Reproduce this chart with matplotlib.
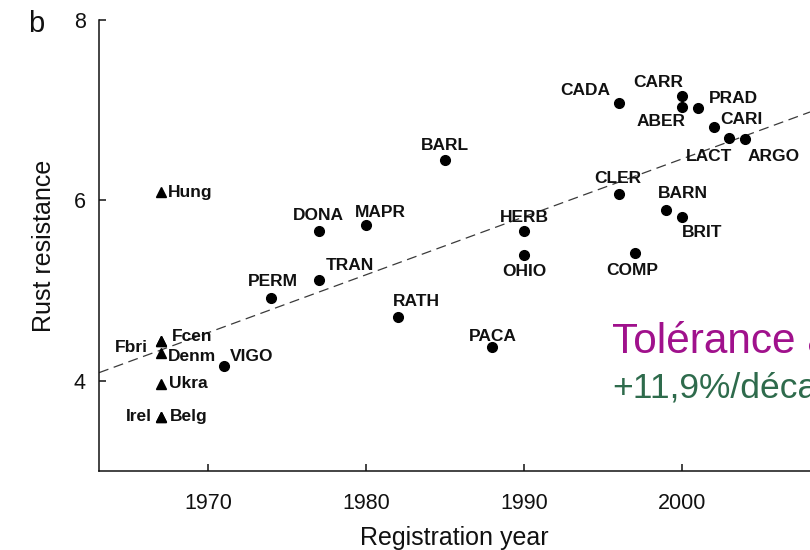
import matplotlib
matplotlib.use("Agg")
import matplotlib.pyplot as plt

plt.rcParams['font.family'] = ['Liberation Sans', 'DejaVu Sans']

# ---- data ----
cultivars = ["VIGO", "PERM", "DONA", "MAPR", "TRAN", "BARL", "RATH", "PACA",
             "HERB", "OHIO", "CADA", "CARR", "ABER", "PRAD", "CARI", "LACT",
             "ARGO", "CLER", "BARN", "BRIT", "COMP"]
cultivar_years = [1971, 1974, 1977, 1980, 1977, 1985, 1982, 1988,
                  1990, 1990, 1996, 2000, 2000, 2001, 2002, 2003,
                  2004, 1996, 1999, 2000, 1997]
cultivar_resistance = [4.16, 4.92, 5.66, 5.73, 5.12, 6.45, 4.71, 4.37,
                       5.66, 5.40, 7.08, 7.16, 7.04, 7.02, 6.81, 6.69,
                       6.68, 6.07, 5.89, 5.82, 5.42]

populations = ["Hung", "Fbri", "Fcen", "Denm", "Ukra", "Irel", "Belg"]
population_years = [1967, 1967, 1967, 1967, 1967, 1967, 1967]
population_resistance = [6.09, 4.44, 4.44, 4.31, 3.97, 3.60, 3.60]

trend_years = [1963.1, 2008.1]
trend_values = [4.09, 6.98]

x_ticks = [1970, 1980, 1990, 2000]
y_ticks = [4, 6, 8]

# ---- label placement (pixel offsets from each mark) ----
cultivar_offsets = {
    "VIGO": (28, 10), "PERM": (2, 16), "DONA": (0, 16), "MAPR": (14, 12),
    "TRAN": (31, 14), "BARL": (0, 14), "RATH": (19, 15), "PACA": (0, 11),
    "HERB": (0, 14), "OHIO": (0, -17), "CADA": (-34, 12), "CARR": (-24, 13),
    "ABER": (-21, -15), "PRAD": (36, 10), "CARI": (28, 8), "LACT": (-20, -18),
    "ARGO": (28, -17), "CLER": (-1, 16), "BARN": (17, 17), "BRIT": (20, -16),
    "COMP": (-2, -18),
}
population_offsets = {
    "Hung": (7, 0, "left"), "Fbri": (-13, -6, "right"), "Fcen": (11, 5, "left"),
    "Denm": (7, -4, "left"), "Ukra": (8, 0, "left"), "Irel": (-9, 0, "right"),
    "Belg": (9, 0, "left"),
}

W, H = 810, 550
fig = plt.figure(figsize=(W / 100, H / 100), dpi=100)
ax = fig.add_axes([99 / W, 1 - 471 / H, 1 - 99 / W, (471 - 20) / H])

ax.plot(trend_years, trend_values, color="#3a3a3a", lw=0.9,
        ls=(0, (8, 4.5)), zorder=1)
ax.plot(cultivar_years, cultivar_resistance, "o", color="black",
        markersize=7, zorder=3)
ax.plot(population_years, population_resistance, "^", color="black",
        markersize=7, zorder=3)

label_font = dict(fontsize=12.5, fontweight="bold", color="#111111")
for name, xv, yv in zip(cultivars, cultivar_years, cultivar_resistance):
    dx, dy = cultivar_offsets[name]
    ax.annotate(name, (xv, yv), xytext=(dx, dy), textcoords="offset pixels",
                ha="center", va="center", zorder=4, **label_font)
for name, xv, yv in zip(populations, population_years, population_resistance):
    dx, dy, ha = population_offsets[name]
    ax.annotate(name, (xv, yv), xytext=(dx, dy), textcoords="offset pixels",
                ha=ha, va="center", zorder=4, **label_font)

ax.set_xlim(1963.1, 2008.1)
ax.set_ylim(3, 8)
ax.set_xticks(x_ticks)
ax.set_yticks(y_ticks)
for s in ["top", "right"]:
    ax.spines[s].set_visible(False)
for s in ["left", "bottom"]:
    ax.spines[s].set_linewidth(1.1)
    ax.spines[s].set_color("#111111")
ax.tick_params(axis="both", direction="in", length=5, width=1.1,
               labelsize=15.5, colors="#111111")
ax.tick_params(axis="x", pad=15.5)
ax.tick_params(axis="y", pad=9.5)

ax.set_xlabel("Registration year", fontsize=18, labelpad=9, color="#111111")
ax.set_ylabel("Rust resistance", fontsize=18, labelpad=13, color="#111111")

fig.text(28 / W, 1 - 32 / H, "b", fontsize=21, va="baseline", ha="left",
         color="#111111")

fig.text(612 / W, 1 - 353 / H, "Tolérance a", fontsize=30.5, va="baseline",
         ha="left", color="#A0118C")
fig.text(612 / W, 1 - 398 / H, "+11,9%/décade", fontsize=25.5, va="baseline",
         ha="left", color="#2E6B4C")

fig.savefig("out.png", dpi=100)
